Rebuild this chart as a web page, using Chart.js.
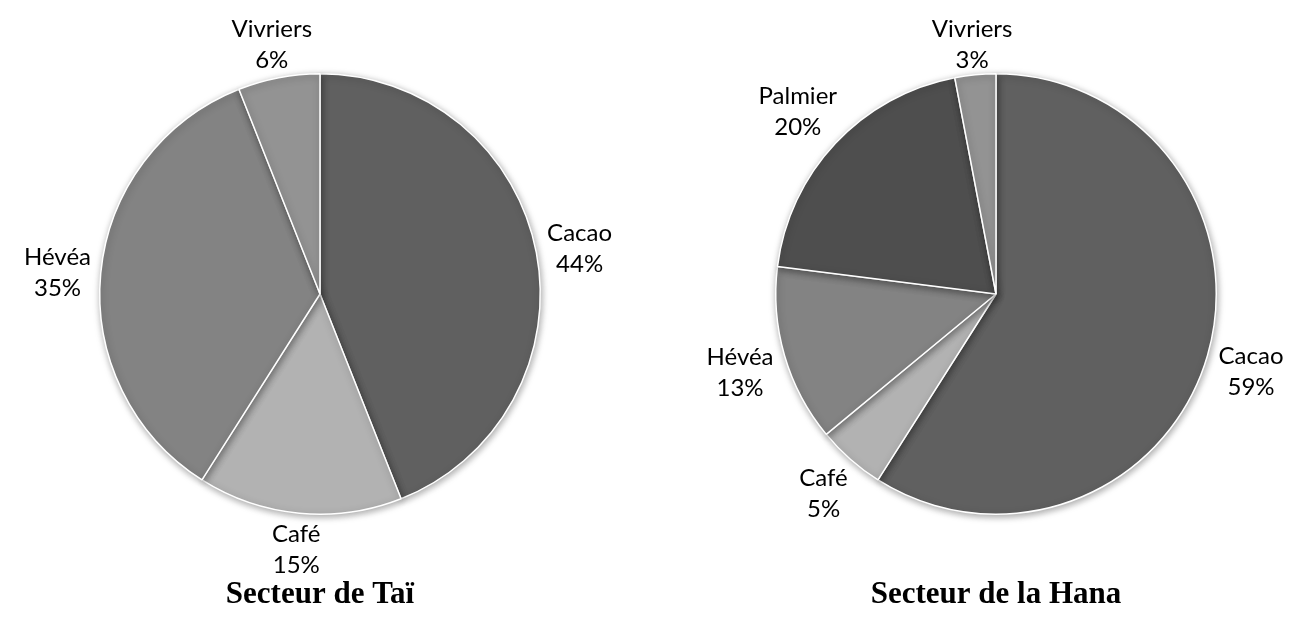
<!DOCTYPE html>
<html>
<head>
<meta charset="utf-8">
<script src="https://cdn.jsdelivr.net/npm/chart.js@4"></script>
<style>
  body { margin: 0; background: #fff; }
  .box { position: absolute; top: 0; width: 640px; height: 619px; }
</style>
</head>
<body>
<div class="box" style="left:0"><canvas id="taiChart"></canvas></div>
<div class="box" style="left:676px"><canvas id="hanaChart"></canvas></div>
<script>
  // data (percentages)
  var taiLabels = ["Cacao", "Café", "Hévéa", "Vivriers"];
  var taiValues = [44, 15, 35, 6];
  var taiColors = ['#606060', '#b2b2b2', '#838383', '#939393'];

  var hanaLabels = ["Cacao", "Café", "Hévéa", "Palmier", "Vivriers"];
  var hanaValues = [59, 5, 13, 20, 3];
  var hanaColors = ['#606060', '#b2b2b2', '#838383', '#4e4e4e', '#939393'];

  var labelFont = '24px Lato, "Open Sans", sans-serif';
  var titleFont = 'bold 31px "Liberation Serif", serif';

  // soft shadow under the pie
  var shadowPlugin = {
    id: 'pieShadow',
    beforeDatasetDraw: function(chart) {
      var ctx = chart.ctx;
      ctx.save();
      ctx.shadowColor = 'rgba(0,0,0,0.35)';
      ctx.shadowBlur = 7;
      ctx.shadowOffsetX = 1;
      ctx.shadowOffsetY = 2;
    },
    afterDatasetDraw: function(chart) {
      chart.ctx.restore();
    }
  };

  // labels outside the slices + title under the pie
  var outLabels = {
    id: 'outLabels',
    afterDatasetsDraw: function(chart, args, opts) {
      var ctx = chart.ctx;
      var ds = chart.data.datasets[0];
      var total = ds.data.reduce(function(a, b) { return a + b; }, 0);
      var meta = chart.getDatasetMeta(0);
      ctx.save();
      ctx.font = labelFont;
      ctx.fillStyle = '#000';
      ctx.textAlign = 'center';
      ctx.textBaseline = 'middle';
      meta.data.forEach(function(arc, i) {
        var p = arc.getProps(['x', 'y', 'startAngle', 'endAngle', 'outerRadius'], true);
        var mid = (p.startAngle + p.endAngle) / 2;
        var dx = Math.cos(mid), dy = Math.sin(mid);
        var l1 = chart.data.labels[i];
        var l2 = Math.round(ds.data[i] / total * 100) + '%';
        var w = Math.max(ctx.measureText(l1).width, ctx.measureText(l2).width);
        var h = 44;
        var r = p.outerRadius + 8;
        var ax = p.x + dx * r, ay = p.y + dy * r;
        var push = Math.abs(dx) * w / 2 + Math.abs(dy) * h / 2;
        var cx = ax + dx * push, cy = ay + dy * push + 4;
        ctx.fillText(l1, cx, cy - 15.5);
        ctx.fillText(l2, cx, cy + 15.5);
      });
      ctx.font = titleFont;
      ctx.textBaseline = 'alphabetic';
      ctx.fillText(opts.text, (chart.chartArea.left + chart.chartArea.right) / 2, 603);
      ctx.restore();
    }
  };

  function makePie(id, labels, values, colors, title) {
    var ctx = document.getElementById(id).getContext('2d');
    return new Chart(ctx, {
      type: 'pie',
      data: {
        labels: labels,
        datasets: [{
          data: values,
          backgroundColor: colors,
          borderColor: '#ffffff',
          borderWidth: 1.5
        }]
      },
      options: {
        responsive: true,
        maintainAspectRatio: false,
        animation: false,
        layout: { padding: { top: 73, bottom: 104, left: 99, right: 99 } },
        plugins: {
          legend: { display: false },
          tooltip: { enabled: false },
          outLabels: { text: title }
        }
      },
      plugins: [shadowPlugin, outLabels]
    });
  }

  makePie('taiChart', taiLabels, taiValues, taiColors, 'Secteur de Taï');
  makePie('hanaChart', hanaLabels, hanaValues, hanaColors, 'Secteur de la Hana');
</script>
</body>
</html>
